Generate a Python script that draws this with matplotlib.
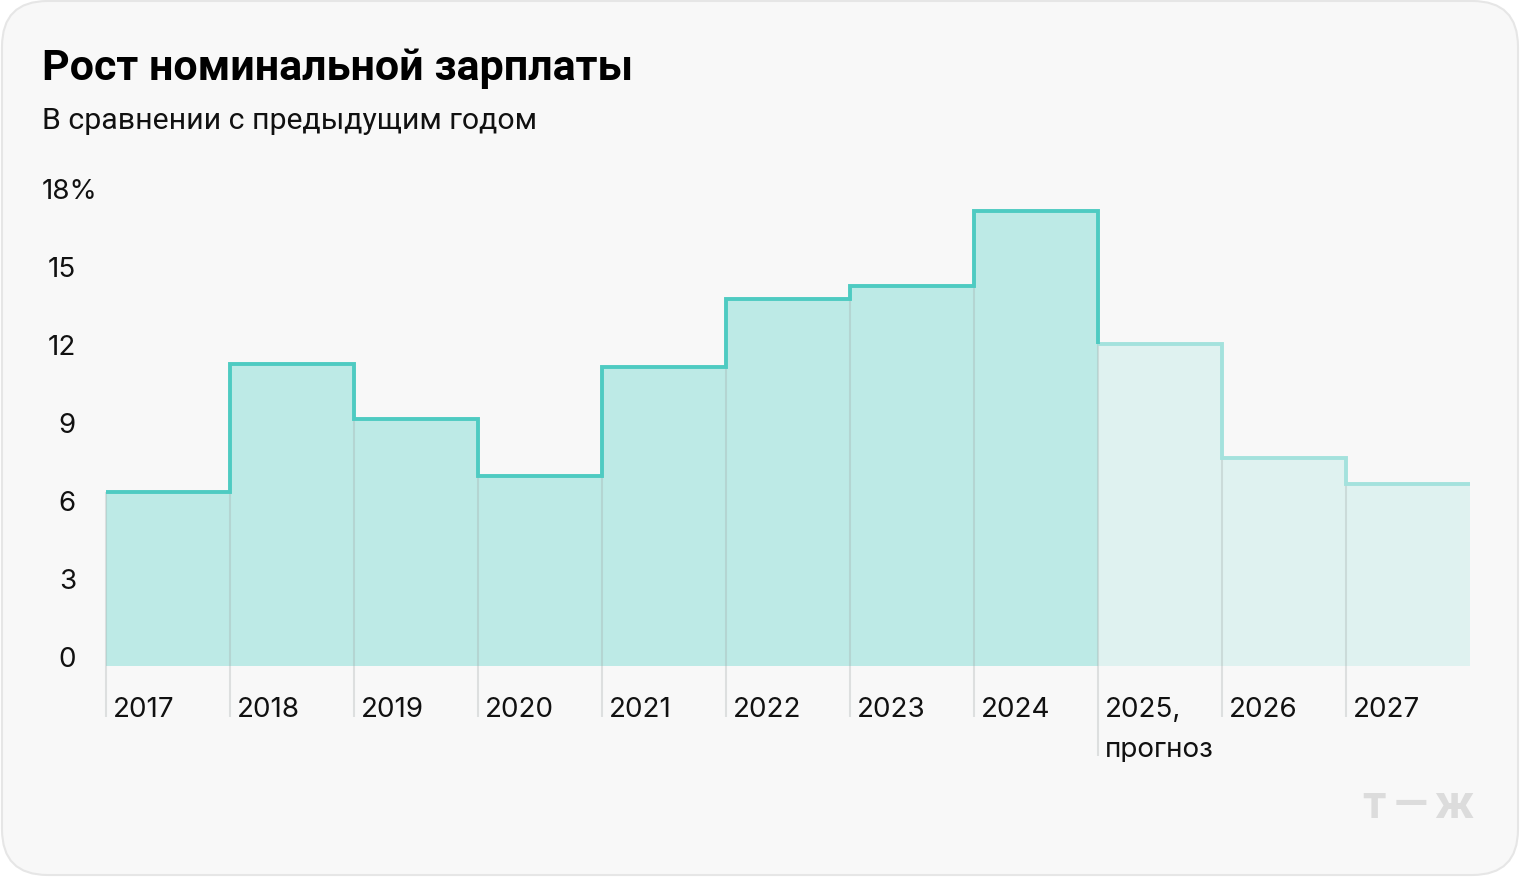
import matplotlib
matplotlib.use("Agg")
import matplotlib.pyplot as plt
import numpy as np
from matplotlib.patches import FancyBboxPatch
import matplotlib.transforms as mtransforms

# ---- data ----
years = ["2017", "2018", "2019", "2020", "2021", "2022", "2023", "2024",
         "2025,", "2026", "2027"]
year_notes = ["", "", "", "", "", "", "", "", "прогноз", "", ""]
growth = [6.7, 11.6, 9.5, 7.3, 11.5, 14.1, 14.6, 17.5, 12.4, 8.0, 7.0]
n_actual = 8  # 2017..2024 actual, rest forecast
yticks = [0, 3, 6, 9, 12, 15, 18]
ytick_labels = ["0", "3", "6", "9", "12", "15", "18%"]
title = "Рост номинальной зарплаты"
subtitle = "В сравнении с предыдущим годом"

W, H = 1520, 878
fig = plt.figure(figsize=(W / 100, H / 100), dpi=100)
fig.patch.set_facecolor("white")

# card background
card = FancyBboxPatch((2 / W, 2 / H), (W - 4) / W, (H - 4) / H,
                      boxstyle="round,pad=0,rounding_size=0.03",
                      transform=fig.transFigure, facecolor="#f8f8f8",
                      edgecolor="#e6e6e6", linewidth=1.5, mutation_aspect=W / H,
                      zorder=-10)
fig.patches.append(card)

FONT = ["Roboto", "DejaVu Sans"]
LFONT = ["Inter", "Roboto", "DejaVu Sans"]
LSIZE = 20.0

# axes
x0, x1 = 106, 1470
y0, y1 = 667, 199
ax = fig.add_axes([x0 / W, (H - y0) / H, (x1 - x0) / W, (y0 - y1) / H])
ax.set_zorder(5)
ax.set_xlim(0, len(growth))
ax.set_ylim(0, 18)
ax.axis("off")
ax.patch.set_alpha(0)
ppu = (y0 - y1) / 18.0  # pixels per unit

fill_actual = "#bdeae6"
line_actual = "#4ecbc2"
fill_fc = "#dff2f0"
line_fc = "#a4e2dd"

idx = np.arange(len(growth))
colors = [fill_actual if i < n_actual else fill_fc for i in idx]
ax.bar(idx, growth, width=1.0, align="edge", color=colors, linewidth=0, zorder=1)

# separator lines
for i in range(len(growth)):
    top = growth[i] if i == 0 else min(growth[i - 1], growth[i])
    bottom = -(757 - y0) / ppu if i == n_actual else -(718 - y0) / ppu
    ax.plot([i, i], [bottom, top], color="#a0a6a6", alpha=0.3, lw=1.5,
            solid_capstyle="butt", clip_on=False, zorder=2)

# actual step line (with drop to first forecast value)
xs, ys = [0], [growth[0]]
for i in range(n_actual):
    xs.append(i + 1); ys.append(growth[i])
    if i + 1 < len(growth):
        xs.append(i + 1); ys.append(growth[i + 1])
# forecast step line
fx, fy = [n_actual], [growth[n_actual]]
for i in range(n_actual, len(growth)):
    fx.append(i + 1); fy.append(growth[i])
    if i + 1 < len(growth):
        fx.append(i + 1); fy.append(growth[i + 1])
ax.plot(fx, fy, color=line_fc, lw=2.8, clip_on=False, zorder=3,
        solid_joinstyle="miter", solid_capstyle="butt")
ax.plot(xs, ys, color=line_actual, lw=2.8, clip_on=False, zorder=4,
        solid_joinstyle="miter", solid_capstyle="butt")

# y tick labels
for v, lab in zip(yticks, ytick_labels):
    if lab.endswith("%"):
        tr = mtransforms.offset_copy(ax.transData, fig=fig, x=-(106 - 42) * 0.72, y=0, units="points")
        ax.text(0, v, lab, ha="left", va="baseline", fontsize=LSIZE, family=LFONT,
                color="#111111", transform=tr)
    else:
        tr = mtransforms.offset_copy(ax.transData, fig=fig, x=-(106 - 76) * 0.72, y=0, units="points")
        ax.text(0, v, lab, ha="right", va="baseline", fontsize=LSIZE, family=LFONT,
                color="#111111", transform=tr)

# x labels (baseline rows)
for i, (lab, note) in enumerate(zip(years, year_notes)):
    tr = mtransforms.offset_copy(ax.transData, fig=fig, x=7 * 0.72, y=0, units="points")
    ax.text(i, -(717 - y0) / ppu, lab, ha="left", va="baseline", fontsize=LSIZE,
            family=LFONT, color="#111111", transform=tr)
    if note:
        ax.text(i, -(757 - y0) / ppu, note, ha="left", va="baseline", fontsize=LSIZE,
                family=LFONT, color="#111111", transform=tr)

# titles
fig.text(42 / W, 1 - 80 / H, title, fontsize=31, fontweight="bold",
         family=FONT, color="#000000", ha="left", va="baseline")
fig.text(42 / W, 1 - 129 / H, subtitle, fontsize=21.8, family=FONT,
         color="#111111", ha="left", va="baseline")

# watermark (т — ж)
wm = dict(fontweight="bold", family=FONT, color="#dcdcdc", va="baseline", ha="center")
fig.text(1373.5 / W, 1 - 818 / H, "т", fontsize=33, **wm)
fig.text(1411 / W, 1 - 818 / H, "—", fontsize=32, **wm)
fig.text(1454 / W, 1 - 818 / H, "ж", fontsize=33, **wm)

fig.savefig("out.png", dpi=100, facecolor=fig.get_facecolor())
